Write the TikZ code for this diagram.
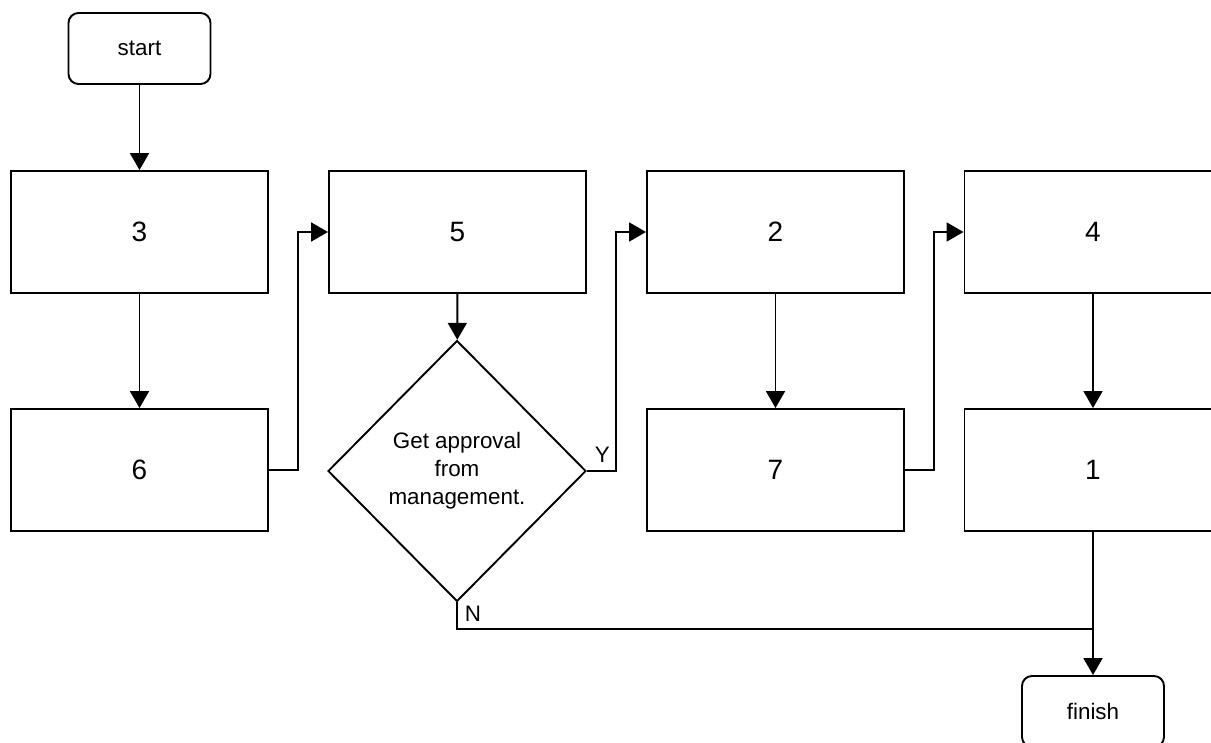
\documentclass[tikz,border=0pt]{standalone}
\usepackage{fontspec}
\setmainfont{Liberation Sans}
\usepackage{tikz}
\usetikzlibrary{arrows.meta,positioning,calc,shapes.geometric}
\tikzstyle{block}=[draw,rectangle,minimum width=128.5pt,minimum height=61pt,inner sep=0pt,font=\fontsize{14}{16}\selectfont]
\tikzstyle{terminal}=[draw,rectangle,rounded corners=5pt,minimum width=71pt,minimum height=35.5pt,inner sep=0pt,font=\fontsize{11.2}{13}\selectfont]
\tikzstyle{decision}=[draw,diamond,minimum width=129pt,minimum height=130.5pt,inner sep=0pt,align=center,font=\fontsize{11.2}{14}\selectfont]
\tikzstyle{flow}=[-{Triangle[length=8.5pt,width=9.5pt]}]
\tikzstyle{branch}=[font=\fontsize{11.2}{13}\selectfont,inner sep=1.5pt]

\begin{document}
\begin{tikzpicture}[x=0.5pt,y=-0.5pt,line width=0.95pt]
\useasboundingbox (0,0) rectangle (1211,743);

% terminals
\node [terminal] (start) at (139.5,48.5) {start};
\node [terminal] (finish) at (1093,711.5) {finish};

% process boxes, two rows
\node [block] (b3) at (139.5,232) {3};
\node [block] (b6) at (139.5,470) {6};
\node [block] (b5) at (457.5,232) {5};
\node [block] (b2) at (775.5,232) {2};
\node [block] (b7) at (775.5,470) {7};
\node [block] (b4) at (1093,232) {4};
\node [block] (b1) at (1093,470) {1};

% approval check
\node [decision] (ok) at (457,471) {Get approval\\from\\management.};

\coordinate (merge) at (b1.south |- 0,629);

\draw [flow] (start) -- (b3);
\draw [flow] (b3) -- (b6);
\draw [flow] (b6.east) -- ++(29,0) |- (b5.west);
\draw [flow] (b5) -- (ok);
\draw [flow] (ok.east) -- ++(29,0) |- (b2.west);
\draw [flow] (b2) -- (b7);
\draw [flow] (b7.east) -- ++(29,0) |- (b4.west);
\draw [flow] (b4) -- (b1);
\draw [flow] (b1) -- (finish);
\draw (ok.south) |- (merge);

% branch labels
\node [branch,anchor=south west,xshift=2pt,yshift=2.5pt] (yes) at (ok.east) {Y};
\node [branch,anchor=north west,xshift=2pt] (no) at (ok.south) {N};
\end{tikzpicture}
\end{document}
